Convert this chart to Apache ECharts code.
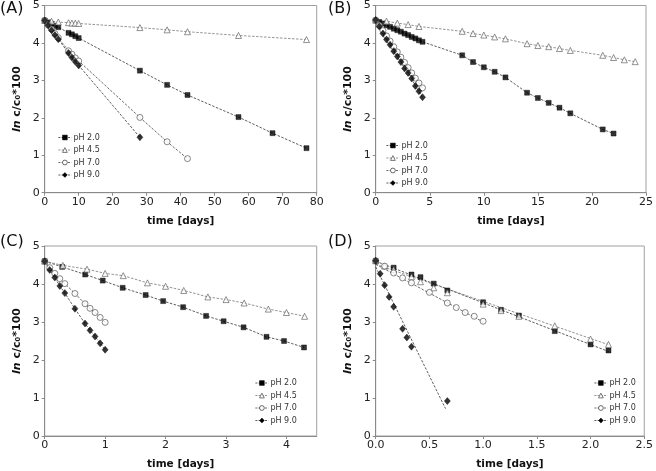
<!DOCTYPE html>
<html><head><meta charset="utf-8">
<script src="https://cdn.jsdelivr.net/npm/echarts@6/dist/echarts.min.js"></script>
<style>html,body{margin:0;padding:0;background:#fff}#c{width:656px;height:471px}</style>
</head><body><div id="c"></div>
<script>
const pHNames = ['pH 2.0','pH 4.5','pH 7.0','pH 9.0'];
const panelLabels = ['(A)','(B)','(C)','(D)'];
const xMax = [80, 25, 4.5, 2.5];
const xInterval = [10, 5, 1, 0.5];
const yTicks = [0, 1, 2, 3, 4, 5];

const A_pH20 = [[0,4.6],[1,4.55],[2,4.5],[3,4.46],[4,4.42],[7,4.27],[8,4.23],[9,4.18],[10,4.13],[28,3.26],[36,2.88],[42,2.61],[57,2.02],[67,1.59],[77,1.19]];
const A_pH45 = [[0,4.6],[2,4.58],[4,4.56],[7,4.54],[8,4.53],[9,4.53],[10,4.52],[28,4.41],[36,4.35],[42,4.3],[57,4.2],[77,4.09]];
const A_pH70 = [[0,4.6],[1,4.48],[2,4.37],[3,4.25],[4,4.14],[7,3.79],[8,3.7],[9,3.6],[10,3.52],[28,2.01],[36,1.36],[42,0.91]];
const A_pH90 = [[0,4.6],[1,4.47],[2,4.34],[3,4.21],[4,4.1],[7,3.73],[8,3.61],[9,3.5],[10,3.4],[28,1.48]];

const B_pH20 = [[0,4.6],[0.33,4.56],[0.67,4.52],[1,4.47],[1.33,4.43],[1.67,4.38],[2,4.34],[2.33,4.3],[2.67,4.25],[3,4.21],[3.33,4.16],[3.67,4.12],[4,4.07],[4.33,4.03],[8,3.67],[9,3.49],[10,3.35],[11,3.23],[12,3.08],[14,2.67],[15,2.53],[16,2.4],[17,2.27],[18,2.12],[21,1.69],[22,1.58]];
const B_pH45 = [[0,4.61],[1,4.58],[2,4.53],[3,4.49],[4,4.44],[8,4.31],[9,4.25],[10,4.21],[11,4.16],[12,4.11],[14,3.98],[15,3.93],[16,3.9],[17,3.85],[18,3.8],[21,3.67],[22,3.61],[23,3.55],[24,3.5]];
const B_pH70 = [[0,4.61],[0.33,4.47],[0.67,4.33],[1,4.19],[1.33,4.05],[1.67,3.9],[2,3.76],[2.33,3.62],[2.67,3.48],[3,3.34],[3.33,3.2],[3.67,3.06],[4,2.93],[4.33,2.8]];
const B_pH90 = [[0,4.61],[0.33,4.44],[0.67,4.25],[1,4.09],[1.33,3.95],[1.67,3.78],[2,3.64],[2.33,3.49],[2.67,3.32],[3,3.2],[3.33,3.05],[3.67,2.85],[4,2.71],[4.33,2.55]];

const C_pH20 = [[0,4.6],[0.29,4.45],[0.67,4.25],[0.96,4.09],[1.29,3.9],[1.67,3.71],[1.96,3.55],[2.29,3.39],[2.67,3.16],[2.96,3.02],[3.29,2.86],[3.67,2.61],[3.96,2.5],[4.29,2.33]];
const C_pH45 = [[0,4.6],[0.3,4.49],[0.7,4.39],[1,4.28],[1.3,4.22],[1.7,4.03],[2,3.94],[2.3,3.83],[2.7,3.66],[3,3.59],[3.3,3.5],[3.7,3.34],[4,3.25],[4.3,3.15]];
const C_pH70 = [[0,4.6],[0.083,4.43],[0.167,4.28],[0.25,4.14],[0.333,4.01],[0.5,3.75],[0.667,3.48],[0.75,3.36],[0.833,3.25],[0.917,3.12],[1,2.99]];
const C_pH90 = [[0,4.6],[0.083,4.37],[0.167,4.17],[0.25,3.95],[0.333,3.76],[0.5,3.35],[0.667,2.96],[0.75,2.78],[0.833,2.62],[0.917,2.44],[1,2.27]];

const D_pH20 = [[0,4.61],[0.167,4.43],[0.333,4.25],[0.417,4.18],[0.54,4.01],[0.667,3.83],[1,3.52],[1.167,3.32],[1.333,3.17],[1.667,2.76],[2,2.41],[2.167,2.25]];
const D_pH45 = [[0,4.61],[0.083,4.47],[0.167,4.38],[0.333,4.19],[0.417,4.06],[0.54,3.9],[0.667,3.77],[1,3.47],[1.167,3.3],[1.333,3.15],[1.667,2.9],[2,2.55],[2.167,2.41]];
const D_pH70 = [[0,4.61],[0.083,4.47],[0.167,4.29],[0.25,4.16],[0.333,4.03],[0.5,3.78],[0.667,3.5],[0.75,3.38],[0.833,3.25],[0.917,3.15],[1,3.02]];
const D_pH90 = [[0,4.61],[0.042,4.27],[0.083,3.97],[0.125,3.66],[0.167,3.4],[0.25,2.82],[0.29,2.59],[0.333,2.35],[0.667,0.92]];
// regression lines drawn in panel D (start and end values)
const D_fit20 = [[0,4.6],[2.17,2.22]];
const D_fit45 = [[0,4.52],[2.17,2.4]];
const D_fit70 = [[0,4.52],[1,3.0]];
const D_fit90 = [[0,4.45],[0.65,0.72]];

const panelData = [
  [A_pH20, A_pH45, A_pH70, A_pH90],
  [B_pH20, B_pH45, B_pH70, B_pH90],
  [C_pH20, C_pH45, C_pH70, C_pH90],
  [D_pH20, D_pH45, D_pH70, D_pH90]
];
const panelLines = [
  [A_pH20, A_pH45, A_pH70, A_pH90],
  [B_pH20, B_pH45, B_pH70, B_pH90],
  [C_pH20, C_pH45, C_pH70, C_pH90],
  [D_fit20, D_fit45, D_fit70, D_fit90]
];

const FONT = 'DejaVu Sans';
const grids = [
  {left: 44.7, right: 339.3, top: 3.5, bottom: 278.3},
  {left: 375.7, right: 7.7, top: 3.5, bottom: 278.3},
  {left: 44.7, right: 339.3, top: 246, bottom: 35},
  {left: 375.7, right: 7.7, top: 246, bottom: 35}
];
const legendPos = [
  {left: 58, top: 133.5},
  {left: 386, top: 141.5},
  {left: 255, top: 379},
  {left: 594, top: 379}
];
const labelPos = [[0, 9], [328, 9], [0, 242], [328, 242]];

const markers = [
  {symbol: 'rect', size: 5, itemStyle: {color: '#000', borderColor: '#000', borderWidth: 0.5}},
  {symbol: 'triangle', size: 6, itemStyle: {color: '#fff', borderColor: '#555', borderWidth: 0.8}},
  {symbol: 'circle', size: 6, itemStyle: {color: '#fff', borderColor: '#444', borderWidth: 0.8}},
  {symbol: 'diamond', size: [6, 7], itemStyle: {color: '#000', borderColor: '#000', borderWidth: 0.5}}
];
const lineColors = ['#333', '#777', '#444', '#333'];

const axisGray = '#8a8a8a';
const option = {
  animation: false,
  backgroundColor: '#fff',
  grid: grids.map(g => Object.assign({show: true, borderColor: '#a0a0a0', borderWidth: 1, containLabel: false}, g)),
  xAxis: grids.map((g, i) => ({
    gridIndex: i, type: 'value', min: 0, max: xMax[i], interval: xInterval[i],
    name: 'time [days]', nameLocation: 'middle', nameGap: 23,
    nameTextStyle: {fontFamily: FONT, fontWeight: 'bold', fontSize: 10.5, color: '#111'},
    axisLine: {show: true, onZero: false, lineStyle: {color: axisGray, width: 1}},
    axisTick: {show: true, inside: false, length: 3, lineStyle: {color: axisGray}},
    splitLine: {show: false},
    axisLabel: {fontFamily: FONT, fontSize: 11, color: '#222', margin: 4, showMaxLabel: i !== 2,
      formatter: v => i === 3 ? v.toFixed(1) : String(v)}
  })),
  yAxis: grids.map((g, i) => ({
    gridIndex: i, type: 'value', min: yTicks[0], max: yTicks[yTicks.length - 1], interval: 1,
    name: '{i|ln} c/c₀*100', nameLocation: 'middle', nameGap: 22, nameRotate: 90,
    nameTextStyle: {fontFamily: FONT, fontWeight: 'bold', fontSize: 11, color: '#111',
      rich: {i: {fontFamily: FONT, fontWeight: 'bold', fontStyle: 'italic', fontSize: 11, color: '#111'}}},
    axisLine: {show: true, onZero: false, lineStyle: {color: axisGray, width: 1}},
    axisTick: {show: true, inside: false, length: 3, lineStyle: {color: axisGray}},
    splitLine: {show: false},
    axisLabel: {fontFamily: FONT, fontSize: 11, color: '#222', margin: 5}
  })),
  legend: legendPos.map((p, i) => ({
    orient: 'vertical', left: p.left, top: p.top,
    data: pHNames.map((n, j) => ({name: n, itemStyle: markers[j].itemStyle})),
    itemWidth: 13, itemHeight: 6, itemGap: 4.5, padding: 0,
    selectedMode: false,
    lineStyle: {type: [2, 1.2], width: 0.8},
    textStyle: {fontFamily: FONT, fontSize: 8, color: '#333', padding: [0, 0, 0, -3]}
  })),
  graphic: labelPos.map((p, i) => ({
    type: 'text', x: p[0], y: p[1],
    style: {text: panelLabels[i], font: '16px "DejaVu Sans"', fill: '#111', verticalAlign: 'middle', align: 'left'}
  })),
  series: []
};

panelData.forEach((sets, i) => {
  sets.forEach((pts, j) => {
    option.series.push({
      type: 'line', name: pHNames[j], xAxisIndex: i, yAxisIndex: i,
      data: panelLines[i][j], symbol: markers[j].symbol, symbolSize: markers[j].size,
      showSymbol: false, silent: true, z: 1,
      itemStyle: markers[j].itemStyle,
      lineStyle: {color: lineColors[j], width: 0.8, type: [2.5, 1.5]}
    });
    option.series.push({
      type: 'scatter', name: pHNames[j] + ' data', xAxisIndex: i, yAxisIndex: i,
      data: pts, symbol: markers[j].symbol, symbolSize: markers[j].size,
      itemStyle: markers[j].itemStyle, z: 3, silent: true
    });
  });
});

const chart = echarts.init(document.getElementById('c'), null, {renderer: 'canvas'});
chart.setOption(option);
</script>
</body></html>
